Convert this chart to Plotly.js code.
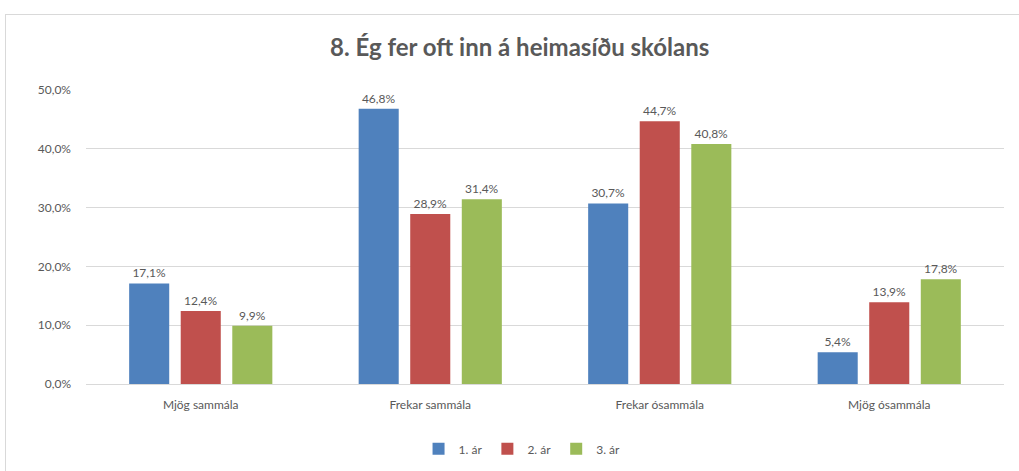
<!DOCTYPE html>
<html>
<head>
<meta charset="utf-8">
<script src="https://cdn.plot.ly/plotly-3.0.1.min.js"></script>
<style>
html,body{margin:0;padding:0;background:#fff;}
#wrap{position:relative;width:1019px;height:471px;overflow:hidden;}
#frame{position:absolute;left:5px;top:14px;width:1030px;height:480px;border:1px solid #d9d9d9;box-sizing:border-box;}
#chart{position:absolute;left:0;top:0;width:1019px;height:471px;}
</style>
</head>
<body>
<div id="wrap"><div id="frame"></div><div id="chart"></div></div>
<script>
const categories = ["Mjög sammála", "Frekar sammála", "Frekar ósammála", "Mjög ósammála"];
const seriesNames = ["1. ár", "2. ár", "3. ár"];
const ar1 = [17.1, 46.8, 30.7, 5.4];
const ar2 = [12.4, 28.9, 44.7, 13.9];
const ar3 = [9.9, 31.4, 40.8, 17.8];
const yTicks = [0, 10, 20, 30, 40, 50];
const yTickText = yTicks.map(v => v.toFixed(1).replace(".", ",") + "%");

const colors = ["#4f81bd", "#c0504d", "#9bbb59"];
const font = "Lato, 'Open Sans', sans-serif";
const data = [ar1, ar2, ar3].map((vals, i) => ({
  type: "bar",
  name: seriesNames[i],
  x: categories,
  y: vals,
  marker: {color: colors[i]},
  texttemplate: "%{y:.1f}%",
  textposition: "outside",
  cliponaxis: false,
  textfont: {family: font, size: 12, color: "#595959"},
  hoverinfo: "none"
}));

const layout = {
  width: 1019, height: 471,
  paper_bgcolor: "rgba(0,0,0,0)",
  plot_bgcolor: "rgba(0,0,0,0)",
  separators: ", ",
  margin: {l: 86, r: 15, t: 90, b: 87, autoexpand: false},
  title: {text: "<b>8. Ég fer oft inn á heimasíðu skólans</b>", x: 0.51, xanchor: "center", y: 0.9, yanchor: "middle",
          font: {family: font, size: 24, color: "#595959"}},
  barmode: "group",
  bargap: 0.326,
  bargroupgap: 0.223,
  xaxis: {tickfont: {family: font, size: 12, color: "#595959"}, showline: true, linecolor: "#d9d9d9", ticks: "",
          automargin: false, ticklabelstandoff: 10},
  yaxis: {range: [0, 50], tickvals: yTicks, ticktext: yTickText, automargin: false,
          tickfont: {family: font, size: 12, color: "#595959"}, gridcolor: "#d9d9d9", zeroline: false,
          ticks: "", ticklabelstandoff: 14},
  legend: {orientation: "h", x: 0.475, xanchor: "center", yref: "container", y: 0.047, yanchor: "middle",
           itemwidth: 30, font: {family: font, size: 12, color: "#595959"}},
  showlegend: true
};
Plotly.newPlot("chart", data, layout, {staticPlot: true});
</script>
</body>
</html>
